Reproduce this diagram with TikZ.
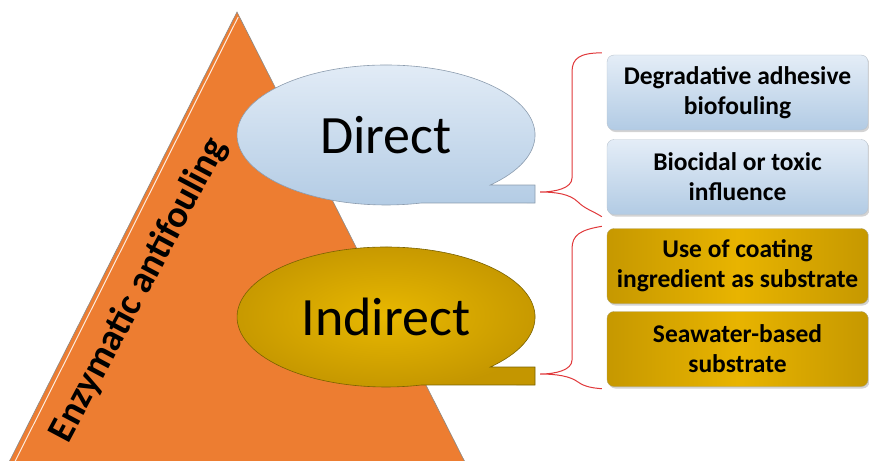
\documentclass[tikz,border=0pt]{standalone}
\usepackage{fontspec}
\setmainfont{Carlito}
\usetikzlibrary{shadows}
\definecolor{tri}{HTML}{ED7D31}
\definecolor{triedge}{HTML}{8A8A8A}
\definecolor{bluetop}{HTML}{E4EDF7}
\definecolor{bluebot}{HTML}{B2CBE4}
\definecolor{blueedge}{HTML}{8C9CAE}
\definecolor{goldin}{HTML}{E8B800}
\definecolor{goldout}{HTML}{C49600}
\definecolor{goldmid}{HTML}{E8B400}
\definecolor{goldside}{HTML}{C69800}
\definecolor{goldedge}{HTML}{7A6200}
\definecolor{bracered}{HTML}{E0383A}
\tikzset{
  bluebox/.style={rounded corners=7pt, minimum width=261pt, minimum height=75pt,
    top color=bluetop, bottom color=bluebot, draw=blueedge!60, line width=0.4pt,
    drop shadow={opacity=0.35, shadow xshift=1.5pt, shadow yshift=-2pt},
    align=center, font=\bfseries\fontsize{25.5}{30}\selectfont, text=black},
  goldbox/.style={rounded corners=7pt, minimum width=261pt, minimum height=75pt,
    left color=goldside, right color=goldside, middle color=goldmid, draw=goldedge!60, line width=0.4pt,
    drop shadow={opacity=0.35, shadow xshift=1.5pt, shadow yshift=-2pt},
    align=center, font=\bfseries\fontsize{25.5}{30}\selectfont, text=black},
  bubbletext/.style={font=\fontsize{54}{60}\selectfont, text=black},
  bracestyle/.style={draw=bracered, line width=1pt}
}
\begin{document}
\begin{tikzpicture}[x=1pt,y=-1pt]
\useasboundingbox (0,0) rectangle (869,460);
% triangle
\begin{scope}
\clip (0,0) rectangle (869,460);
\filldraw[fill=tri, draw=triedge, line width=0.6pt] (237,12) -- (470,472) -- (4,472) -- cycle;
\draw[white, line width=1pt, opacity=0.85] (238.2,17) -- (8.2,475);
\end{scope}
\node[rotate=62, font=\bfseries\fontsize{38}{44}\selectfont] (title) at (139,290) {Enzymatic antifouling};
% Direct bubble
\shade[top color=bluetop, bottom color=bluebot, draw=blueedge, line width=0.6pt]
  (490.3,185) arc[start angle=45.6, end angle=-283.8, x radius=149, y radius=70]
  -- (535,203) -- (535,185) -- cycle;
\node[bubbletext] (direct) at (386,135) {Direct};
\coordinate (dtail) at (535,194);
% Indirect bubble
\shade[inner color=goldin, outer color=goldout, draw=goldedge, line width=0.6pt]
  (490.3,367) arc[start angle=45.6, end angle=-283.8, x radius=149, y radius=70]
  -- (535,385) -- (535,367) -- cycle;
\node[bubbletext] (indirect) at (386,317) {Indirect};
\coordinate (itail) at (535,376);
% boxes
\node[bluebox] (b1) at (737.5,92.5) {Degradative adhesive\\biofouling};
\node[bluebox] (b2) at (737.5,177) {Biocidal or toxic\\influence};
\node[goldbox] (b3) at (737.5,266) {Use of coating\\ingredient as substrate};
\node[goldbox] (b4) at (737.5,349) {Seawater-based\\substrate};
% braces
\coordinate (t1) at ([xshift=5pt,yshift=2pt]dtail);
\coordinate (t2) at ([xshift=5pt,yshift=2pt]itail);
\path[bracestyle] ([xshift=-5pt,yshift=2pt]b1.north west) .. controls (580,53) and (572,58) .. (572,72)
  -- (572,178) .. controls (572,188) and (556,192) .. (t1)
  .. controls (556,192) and (570,194) .. (578,202)
  .. controls (585,209) and (593,211) .. ([xshift=-5pt,yshift=-2pt]b2.south west);
\path[bracestyle] ([xshift=-5pt,yshift=2pt]b3.north west) .. controls (580,230) and (572,235) .. (572,249)
  -- (572,360) .. controls (572,370) and (556,374) .. (t2)
  .. controls (556,374) and (570,376) .. (578,382)
  .. controls (585,387) and (593,388) .. ([xshift=-5pt,yshift=-2pt]b4.south west);
\end{tikzpicture}
\end{document}
